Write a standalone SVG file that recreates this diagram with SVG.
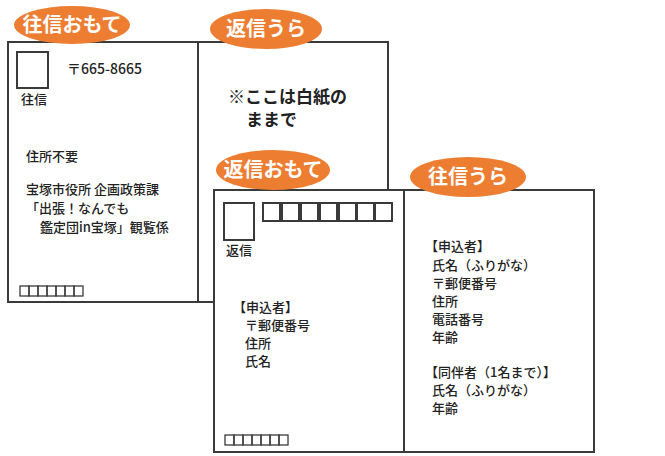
<svg xmlns="http://www.w3.org/2000/svg" width="665" height="456" viewBox="0 0 665 456">
<style>
.card{fill:#fff;stroke:#3a3a3a;stroke-width:2}
.ln{stroke:#3a3a3a;stroke-width:2}
.box{fill:none;stroke:#3a3a3a;stroke-width:2}
.sq{fill:none;stroke:#3a3a3a;stroke-width:1.3}
.ov{fill:#ED7D31}
.lab{font-family:"Noto Sans CJK JP",sans-serif;font-size:20px;font-weight:bold;fill:#fff;text-anchor:middle}
.t{font-family:"Noto Sans CJK JP",sans-serif;font-size:13px;font-weight:500;fill:#222}
.big{font-family:"Noto Sans CJK JP",sans-serif;font-size:17px;font-weight:bold;fill:#222}
</style>
<rect width="665" height="456" fill="#fff"/>
<g id="card1">
<rect class="card" x="8" y="42" width="380" height="260"/>
<line class="ln" x1="198" y1="42" x2="198" y2="302"/>
<rect class="box" x="17" y="52" width="31" height="36"/>
<text class="t" x="67" y="74" style="font-size:14px">〒665-8665</text>
<text class="t" x="21" y="104">往信</text>
<text class="t" x="26" y="161">住所不要</text>
<text class="t" x="26" y="194">宝塚市役所 企画政策課</text>
<text class="t" x="26" y="213">「出張！なんでも</text>
<text class="t" x="40" y="232">鑑定団in宝塚」観覧係</text>
<g class="sq"><rect x="20" y="286" width="9" height="10"/><rect x="29" y="286" width="9" height="10"/><rect x="38" y="286" width="9" height="10"/><rect x="47" y="286" width="9" height="10"/><rect x="56" y="286" width="9" height="10"/><rect x="65" y="286" width="9" height="10"/><rect x="74" y="286" width="9" height="10"/></g>
<text class="big" x="228" y="103">※ここは白紙の</text>
<text class="big" x="246" y="126">ままで</text>
</g>
<g id="card2">
<rect class="card" x="214" y="190" width="380" height="262"/>
<line class="ln" x1="404" y1="190" x2="404" y2="452"/>
<rect class="box" x="224" y="203" width="30" height="37"/>
<g class="box"><rect x="263" y="203" width="17" height="18"/><rect x="282" y="203" width="17" height="18"/><rect x="301" y="203" width="17" height="18"/><rect x="320" y="203" width="17" height="18"/><rect x="339" y="203" width="17" height="18"/><rect x="357" y="203" width="17" height="18"/><rect x="375" y="203" width="17" height="18"/></g>
<text class="t" x="226" y="255">返信</text>
<text class="t" x="233" y="312">【申込者】</text>
<text class="t" x="245" y="330">〒郵便番号</text>
<text class="t" x="245" y="348">住所</text>
<text class="t" x="245" y="366">氏名</text>
<g class="sq"><rect x="225" y="435" width="9" height="10"/><rect x="234" y="435" width="9" height="10"/><rect x="243" y="435" width="9" height="10"/><rect x="252" y="435" width="9" height="10"/><rect x="261" y="435" width="9" height="10"/><rect x="270" y="435" width="9" height="10"/><rect x="279" y="435" width="9" height="10"/></g>
<text class="t" x="425" y="251">【申込者】</text>
<text class="t" x="432" y="270">氏名（ふりがな）</text>
<text class="t" x="432" y="288">〒郵便番号</text>
<text class="t" x="432" y="306">住所</text>
<text class="t" x="432" y="324">電話番号</text>
<text class="t" x="432" y="342">年齢</text>
<text class="t" x="425" y="377">【同伴者（1名まで）】</text>
<text class="t" x="432" y="395">氏名（ふりがな）</text>
<text class="t" x="432" y="413">年齢</text>
</g>
<g id="labels">
<ellipse class="ov" cx="72" cy="25" rx="58" ry="19"/><text class="lab" x="72" y="32">往信おもて</text>
<ellipse class="ov" cx="266" cy="29" rx="56" ry="20"/><text class="lab" x="266" y="36">返信うら</text>
<ellipse class="ov" cx="273" cy="170" rx="57" ry="20"/><text class="lab" x="273" y="177">返信おもて</text>
<ellipse class="ov" cx="468" cy="177" rx="58" ry="20"/><text class="lab" x="468" y="184">往信うら</text>
</g>
</svg>
